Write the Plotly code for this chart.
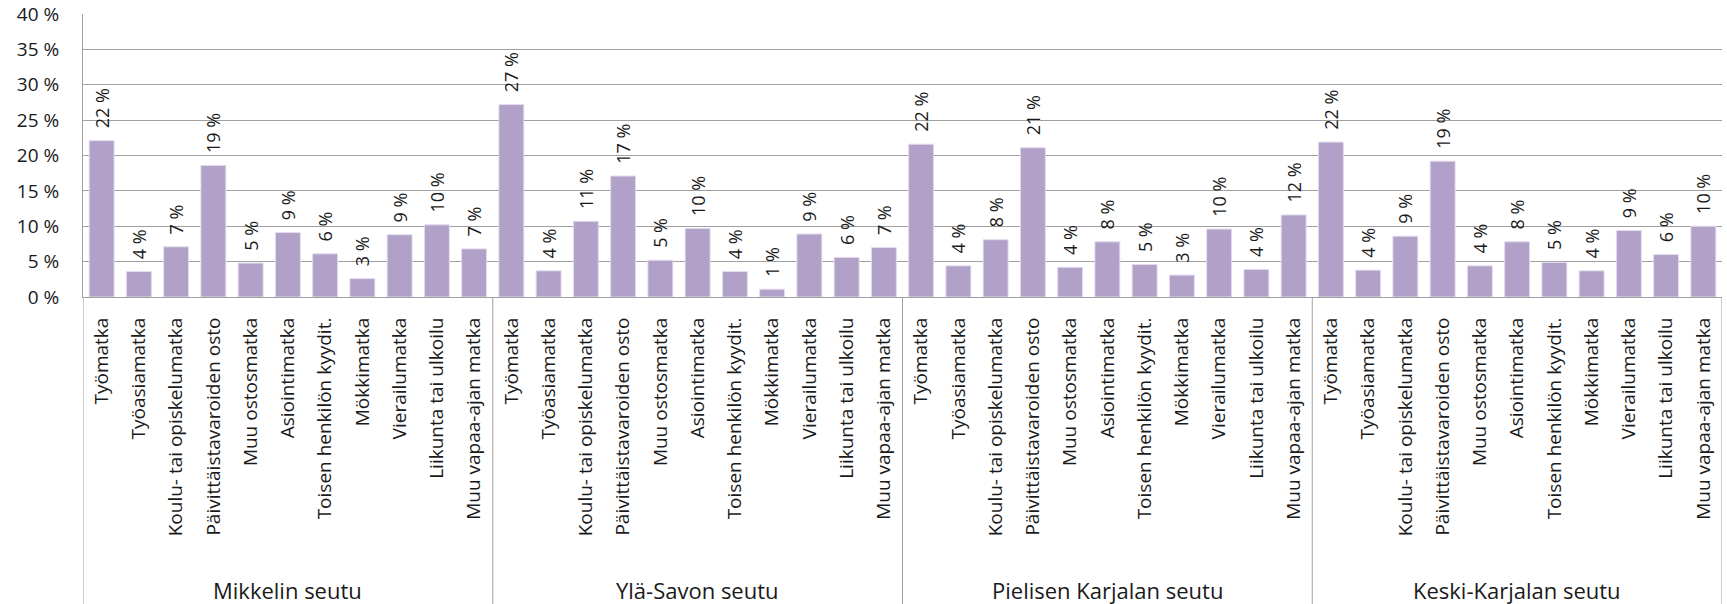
import plotly.graph_objects as go

regions = ["Mikkelin seutu", "Ylä-Savon seutu", "Pielisen Karjalan seutu", "Keski-Karjalan seutu"]

purposes = [
    "Työmatka",
    "Työasiamatka",
    "Koulu- tai opiskelumatka",
    "Päivittäistavaroiden osto",
    "Muu ostosmatka",
    "Asiointimatka",
    "Toisen henkilön kyydit.",
    "Mökkimatka",
    "Vierailumatka",
    "Liikunta tai ulkoilu",
    "Muu vapaa-ajan matka",
]

# shares in percent
mikkeli = [22.1, 3.6, 7.1, 18.6, 4.8, 9.1, 6.1, 2.6, 8.8, 10.2, 6.8]
yla_savo = [27.2, 3.7, 10.7, 17.1, 5.2, 9.7, 3.6, 1.1, 8.9, 5.6, 7.0]
pielinen = [21.6, 4.4, 8.1, 21.1, 4.2, 7.8, 4.6, 3.1, 9.6, 3.9, 11.6]
keski_karjala = [21.9, 3.8, 8.6, 19.2, 4.4, 7.8, 4.9, 3.7, 9.4, 6.0, 10.0]

series = [mikkeli, yla_savo, pielinen, keski_karjala]

n = len(purposes)
values = [v for vals in series for v in vals]
positions = list(range(len(values)))
tick_text = purposes * len(regions)
labels = ["\u00a0\u00a0" + f"{round(v)} %" for v in values]

FONT = "Open Sans, Liberation Sans, sans-serif"
GRID = "#a0a0a0"
INK = "#1a1a1a"

W, H = 1727, 604
M = dict(l=83, r=5, t=14, b=307)
plot_h = H - M["t"] - M["b"]

fig = go.Figure()
fig.add_trace(
    go.Bar(
        x=positions,
        y=values,
        marker=dict(color="#b1a0c7", line=dict(color="#e4dcee", width=1)),
        text=labels,
        textposition="outside",
        textangle=-90,
        constraintext="none",
        cliponaxis=False,
        textfont=dict(size=18, color=INK, family=FONT),
        customdata=[[r, p] for r in regions for p in purposes],
        hovertemplate="%{customdata[0]}<br>%{customdata[1]}: %{y:.1f} %<extra></extra>",
    )
)

# group dividers below the axis and region names
for k, region in enumerate(regions):
    fig.add_annotation(
        x=(k * n + (k + 1) * n - 1) / 2,
        xref="x",
        y=-293 / plot_h,
        yref="paper",
        text=region,
        showarrow=False,
        yanchor="middle",
        font=dict(size=22, family=FONT, color=INK),
    )
for k in range(len(regions) + 1):
    fig.add_shape(
        type="line",
        xref="x",
        yref="paper",
        x0=k * n - 0.5,
        x1=k * n - 0.5,
        y0=0,
        y1=-M["b"] / plot_h,
        line=dict(color=GRID, width=1),
    )

fig.update_layout(
    width=W,
    height=H,
    margin=M,
    plot_bgcolor="white",
    paper_bgcolor="white",
    bargap=0.33,
    showlegend=False,
    font=dict(family=FONT, color=INK),
    xaxis=dict(
        range=[-0.5, len(values) - 0.5],
        tickmode="array",
        tickvals=positions,
        ticktext=tick_text,
        tickangle=-90,
        tickfont=dict(size=19, family=FONT, color=INK),
        ticks="outside",
        ticklen=12,
        tickcolor="rgba(0,0,0,0)",
        showline=True,
        linecolor=GRID,
        linewidth=1,
        showgrid=False,
        zeroline=False,
        automargin=False,
    ),
    yaxis=dict(
        range=[0, 40],
        dtick=5,
        ticksuffix=" %",
        tickfont=dict(size=19, family=FONT, color=INK),
        ticks="outside",
        ticklen=19,
        tickcolor="rgba(0,0,0,0)",
        ticklabeloverflow="allow",
        showgrid=True,
        gridcolor=GRID,
        gridwidth=1,
        showline=True,
        linecolor=GRID,
        linewidth=1,
        zeroline=False,
        automargin=False,
    ),
)

fig.write_html(
    "out.html",
    config={"displayModeBar": False},
    post_script="document.body.style.margin = '0';",
)
